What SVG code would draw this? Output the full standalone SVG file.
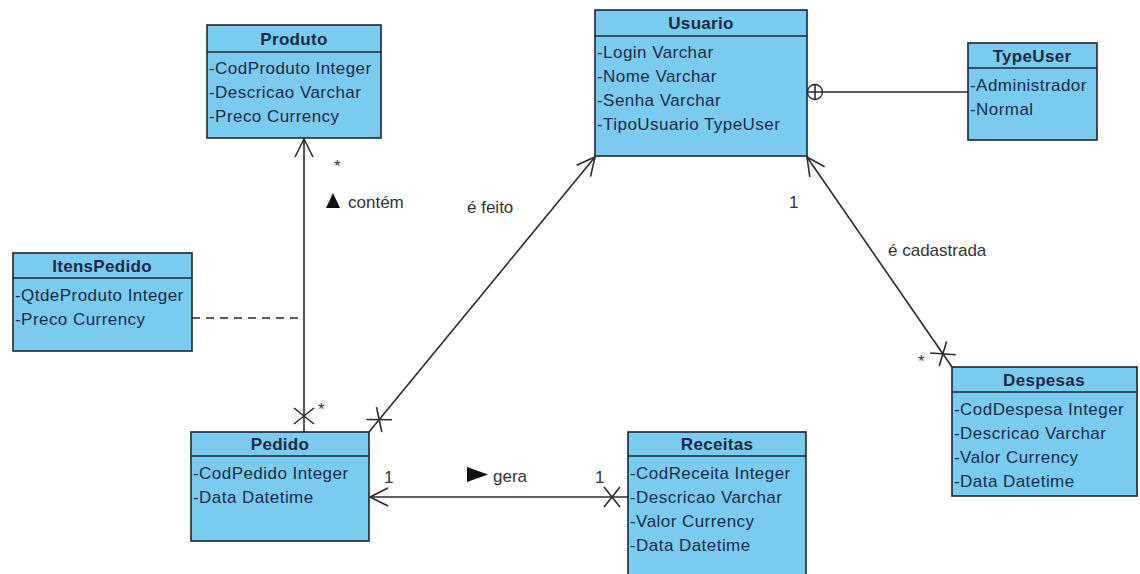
<svg xmlns="http://www.w3.org/2000/svg" width="1140" height="574" viewBox="0 0 1140 574">
  <style>
    .box { fill: #7acbf0; stroke: #1e2533; stroke-width: 1.6; }
    .sep { stroke: #1e2533; stroke-width: 1.4; }
    .title { font-family: "Liberation Sans", Arial, sans-serif; font-size: 17px; font-weight: bold; fill: #1c2b45; text-anchor: middle; letter-spacing: 0.3px; }
    .attr { font-family: "Liberation Sans", Arial, sans-serif; font-size: 17px; fill: #1c2b45; letter-spacing: 0.45px; }
    .lbl { font-family: "Liberation Sans", Arial, sans-serif; font-size: 17px; fill: #333; }
    .conn { fill: none; stroke: #2b2b2b; stroke-width: 1.6; }
    .dash { fill: none; stroke: #2b2b2b; stroke-width: 1.4; stroke-dasharray: 8 6; }
  </style>
  <defs>
    <!-- open navigability arrowhead at path end -->
    <marker id="arrowOpen" markerUnits="userSpaceOnUse" markerWidth="1" markerHeight="1" orient="auto" refX="0" refY="0" overflow="visible">
      <path d="M-18,-9 L0,0 L-18,9" fill="none" stroke="#2b2b2b" stroke-width="1.6"/>
    </marker>
    <!-- non-navigable cross near path start -->
    <marker id="crossStart" markerUnits="userSpaceOnUse" markerWidth="1" markerHeight="1" orient="auto" refX="0" refY="0" overflow="visible">
      <path d="M8,-10 L24,10 M8,10 L24,-10" fill="none" stroke="#2b2b2b" stroke-width="1.6"/>
    </marker>
  </defs>

  <!-- associations -->
  <g id="connectors">
    <path class="conn" d="M304,432 L304,139" marker-start="url(#crossStart)" marker-end="url(#arrowOpen)"/>
    <path class="conn" d="M369,432 L595,157" marker-start="url(#crossStart)" marker-end="url(#arrowOpen)"/>
    <path class="conn" d="M952,367 L807,157" marker-start="url(#crossStart)" marker-end="url(#arrowOpen)"/>
    <path class="conn" d="M628,497 L370,497" marker-start="url(#crossStart)" marker-end="url(#arrowOpen)"/>
    <path class="dash" d="M192,318 L304,318"/>
    <!-- nesting (containment) -->
    <path class="conn" d="M823,92 L968,92"/>
    <circle cx="815" cy="92" r="7.5" fill="#fff" stroke="#2b2b2b" stroke-width="1.4"/>
    <path class="conn" d="M807.5,92 L822.5,92 M815,84.5 L815,99.5" stroke-width="1.3"/>

    <!-- association labels and multiplicities -->
    <text class="lbl" x="334" y="172" font-size="14">*</text>
    <path d="M326,208 L340,208 L333,193 Z" fill="#111"/>
    <text class="lbl" x="348" y="208">contém</text>
    <text class="lbl" x="318" y="415" font-size="14">*</text>
    <text class="lbl" x="467" y="213">é feito</text>
    <text class="lbl" x="789" y="208">1</text>
    <text class="lbl" x="888" y="256">é cadastrada</text>
    <text class="lbl" x="918" y="367" font-size="14">*</text>
    <text class="lbl" x="384" y="483">1</text>
    <path d="M467,467 L488,474.5 L467,482 Z" fill="#111"/>
    <text class="lbl" x="493" y="482">gera</text>
    <text class="lbl" x="595" y="483">1</text>
  </g>

  <g id="Produto">
    <rect class="box" x="207" y="25" width="174" height="113"/>
    <line class="sep" x1="207" y1="52" x2="381" y2="52"/>
    <text class="title" x="294" y="45">Produto</text>
    <text class="attr" x="209" y="74">-CodProduto Integer</text>
    <text class="attr" x="209" y="98">-Descricao Varchar</text>
    <text class="attr" x="209" y="122">-Preco Currency</text>
  </g>

  <g id="Usuario">
    <rect class="box" x="595" y="10" width="212" height="146"/>
    <line class="sep" x1="595" y1="36" x2="807" y2="36"/>
    <text class="title" x="701" y="29">Usuario</text>
    <text class="attr" x="597" y="58">-Login Varchar</text>
    <text class="attr" x="597" y="82">-Nome Varchar</text>
    <text class="attr" x="597" y="106">-Senha Varchar</text>
    <text class="attr" x="597" y="130">-TipoUsuario TypeUser</text>
  </g>

  <g id="TypeUser">
    <rect class="box" x="968" y="43" width="129" height="97"/>
    <line class="sep" x1="968" y1="68" x2="1097" y2="68"/>
    <text class="title" x="1032" y="62">TypeUser</text>
    <text class="attr" x="970" y="91">-Administrador</text>
    <text class="attr" x="970" y="115">-Normal</text>
  </g>

  <g id="ItensPedido">
    <rect class="box" x="13" y="253" width="179" height="98"/>
    <line class="sep" x1="13" y1="278" x2="192" y2="278"/>
    <text class="title" x="102" y="272">ItensPedido</text>
    <text class="attr" x="15" y="301">-QtdeProduto Integer</text>
    <text class="attr" x="15" y="325">-Preco Currency</text>
  </g>

  <g id="Pedido">
    <rect class="box" x="191" y="432" width="178" height="109"/>
    <line class="sep" x1="191" y1="456" x2="369" y2="456"/>
    <text class="title" x="280" y="450">Pedido</text>
    <text class="attr" x="193" y="479">-CodPedido Integer</text>
    <text class="attr" x="193" y="503">-Data Datetime</text>
  </g>

  <g id="Receitas">
    <rect class="box" x="628" y="432" width="178" height="150"/>
    <line class="sep" x1="628" y1="456" x2="806" y2="456"/>
    <text class="title" x="717" y="450">Receitas</text>
    <text class="attr" x="630" y="479">-CodReceita Integer</text>
    <text class="attr" x="630" y="503">-Descricao Varchar</text>
    <text class="attr" x="630" y="527">-Valor Currency</text>
    <text class="attr" x="630" y="551">-Data Datetime</text>
  </g>

  <g id="Despesas">
    <rect class="box" x="952" y="367" width="185" height="129"/>
    <line class="sep" x1="952" y1="392" x2="1137" y2="392"/>
    <text class="title" x="1044" y="386">Despesas</text>
    <text class="attr" x="954" y="415">-CodDespesa Integer</text>
    <text class="attr" x="954" y="439">-Descricao Varchar</text>
    <text class="attr" x="954" y="463">-Valor Currency</text>
    <text class="attr" x="954" y="487">-Data Datetime</text>
  </g>
</svg>
